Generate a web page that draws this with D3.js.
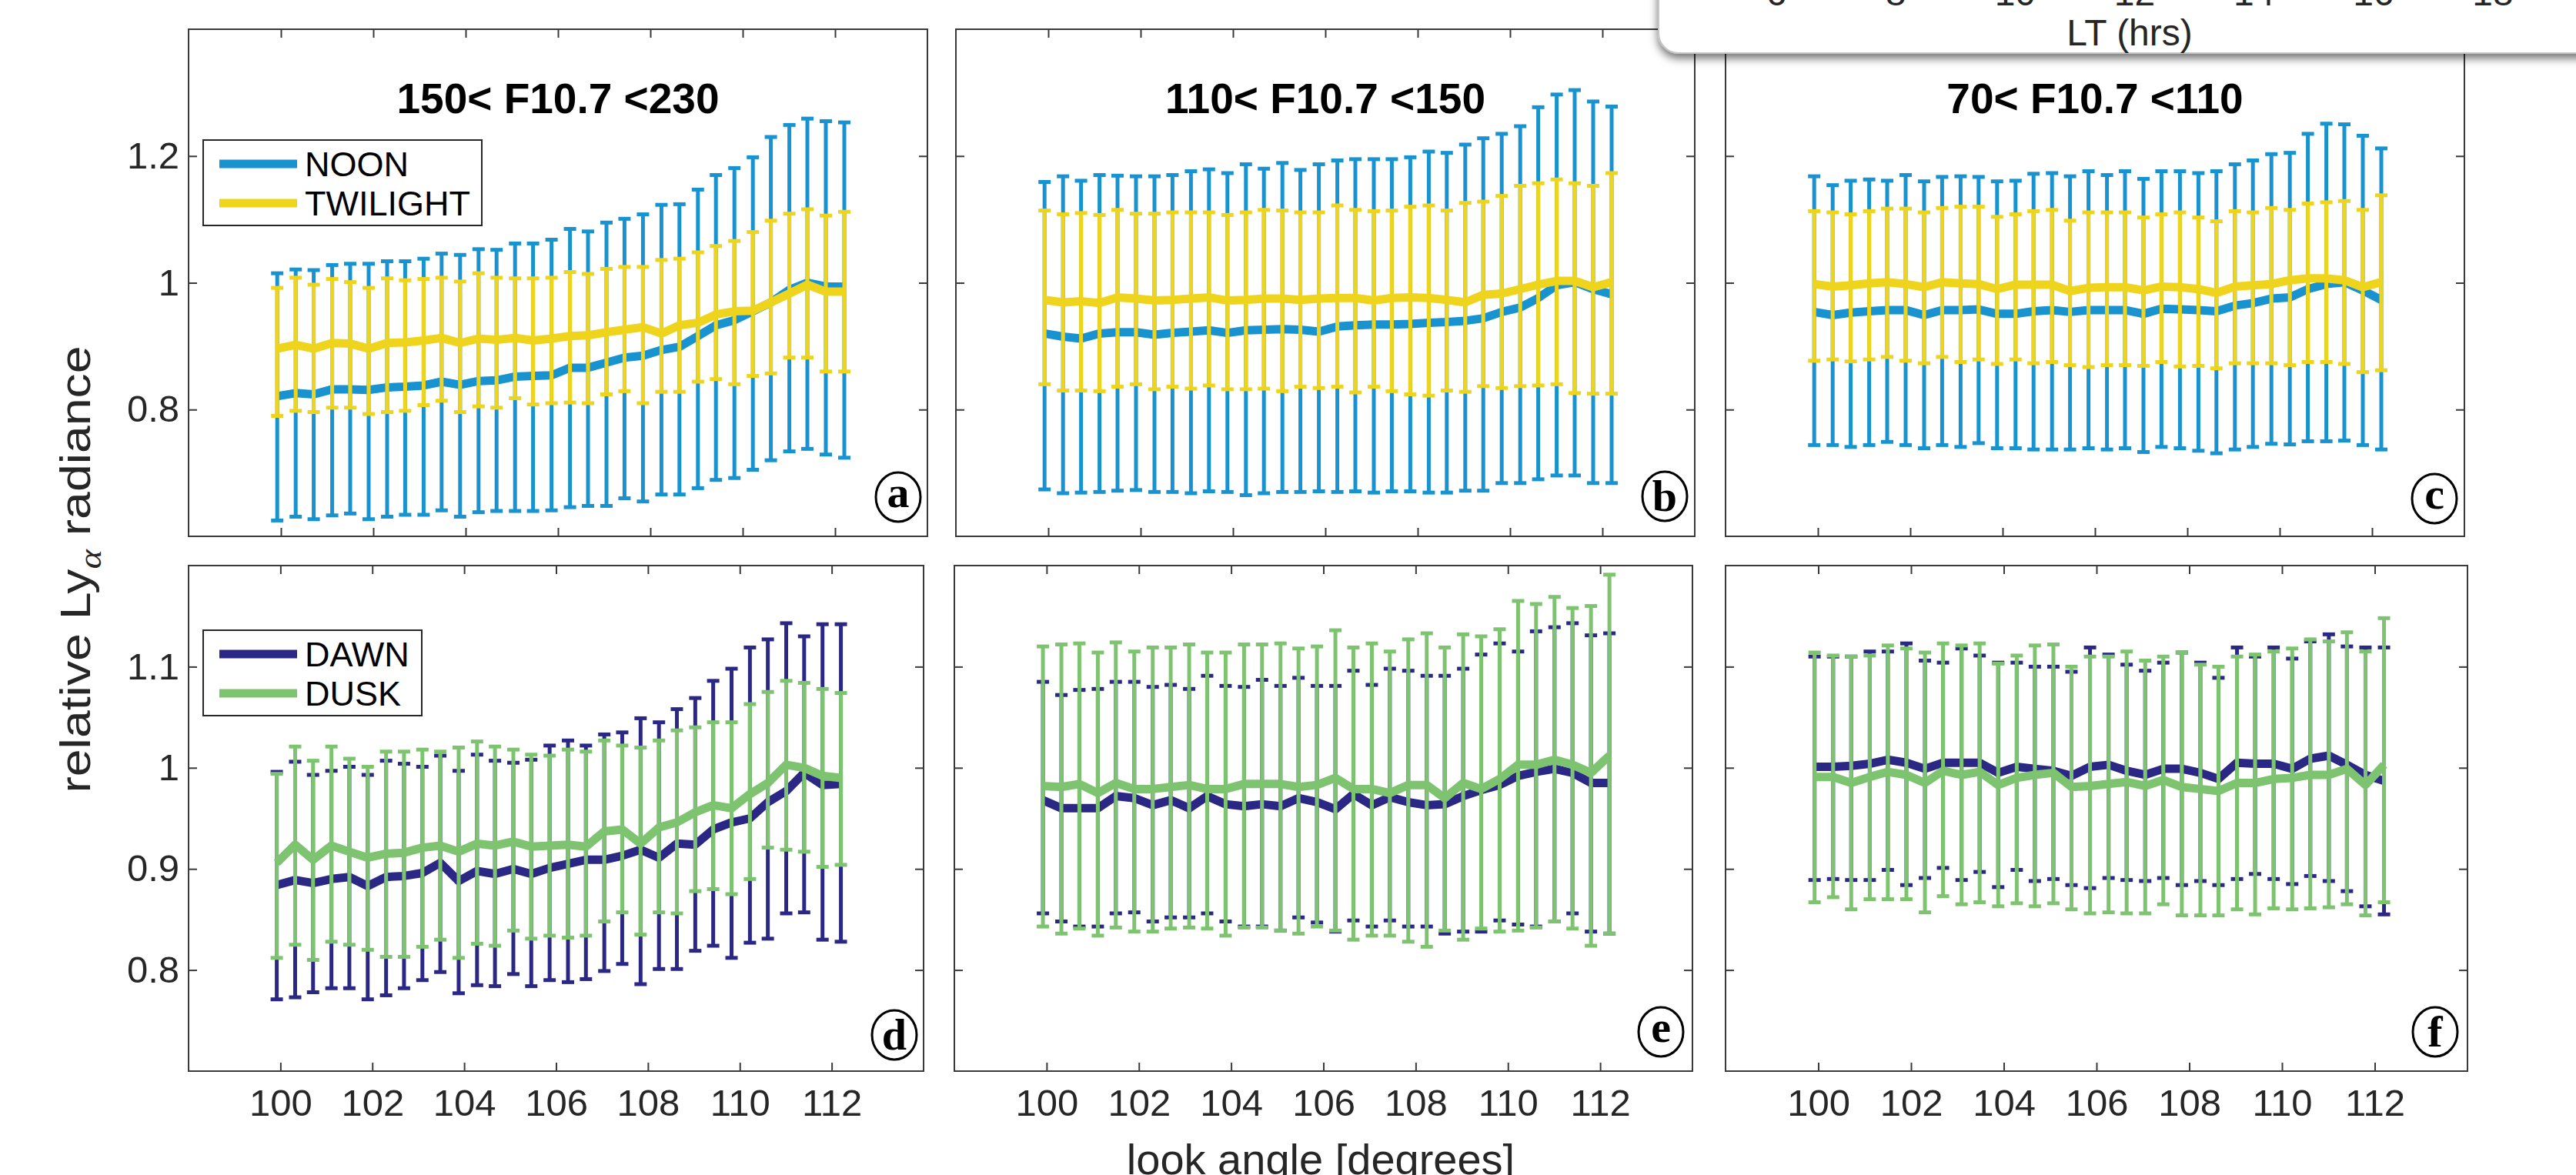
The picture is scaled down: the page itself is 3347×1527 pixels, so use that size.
<!DOCTYPE html>
<html>
<head>
<meta charset="utf-8">
<script src="https://cdn.jsdelivr.net/npm/d3@7"></script>
<style>
	body { margin: 0; background: #fff; }
	svg { display: block; }
	text { font-family: "Liberation Sans", Arial, Helvetica, sans-serif; fill: #262626; }
</style>
</head>
<body>
<script>
// look angle of every bin (same for all six panels)
var angles = [99.92, 100.32, 100.71, 101.11, 101.50, 101.90, 102.30, 102.69, 103.09, 103.48, 103.88, 104.28, 104.67, 105.07, 105.46, 105.86,
	106.26, 106.65, 107.05, 107.44, 107.84, 108.24, 108.63, 109.03, 109.42, 109.82, 110.22, 110.61, 111.01, 111.40, 111.80, 112.20];

// (a) 150 < F10.7 < 230
var aNoonMean = [0.821,0.826,0.824,0.832,0.832,0.831,0.835,0.836,0.838,0.844,0.839,0.845,0.846,0.852,0.853,0.854,0.866,0.866,0.874,0.882,0.885,0.894,0.899,0.916,0.933,0.941,0.955,0.969,0.989,1.000,0.994,0.994];
var aNoonHi = [1.015,1.021,1.020,1.028,1.030,1.030,1.034,1.034,1.038,1.046,1.044,1.053,1.052,1.062,1.062,1.068,1.085,1.081,1.095,1.101,1.108,1.123,1.124,1.147,1.170,1.181,1.198,1.230,1.249,1.259,1.255,1.253];
var aNoonLo = [0.625,0.631,0.627,0.633,0.636,0.627,0.631,0.634,0.634,0.641,0.631,0.638,0.640,0.640,0.640,0.641,0.646,0.648,0.648,0.660,0.655,0.666,0.666,0.676,0.689,0.692,0.705,0.720,0.734,0.738,0.729,0.724];
var aTwiMean = [0.896,0.902,0.896,0.905,0.904,0.896,0.905,0.906,0.909,0.913,0.905,0.912,0.910,0.913,0.909,0.912,0.916,0.917,0.922,0.926,0.930,0.920,0.933,0.937,0.950,0.955,0.956,0.969,0.983,0.997,0.986,0.986];
var aTwiHi = [0.992,1.008,0.997,1.006,1.001,0.992,1.007,1.004,1.006,1.008,1.002,1.015,1.008,1.007,1.007,1.008,1.017,1.014,1.022,1.025,1.025,1.036,1.038,1.048,1.058,1.066,1.080,1.098,1.109,1.116,1.106,1.112];
var aTwiLo = [0.790,0.798,0.796,0.803,0.803,0.793,0.796,0.798,0.807,0.814,0.796,0.805,0.803,0.818,0.808,0.810,0.811,0.810,0.824,0.829,0.810,0.828,0.828,0.844,0.848,0.840,0.853,0.857,0.882,0.882,0.860,0.860];

// (b) 110 < F10.7 < 150
var bNoonMean = [0.920,0.915,0.912,0.920,0.922,0.922,0.918,0.921,0.923,0.925,0.921,0.925,0.926,0.927,0.926,0.923,0.931,0.933,0.934,0.934,0.935,0.937,0.938,0.940,0.944,0.954,0.961,0.976,0.996,1.001,0.990,0.982];
var bNoonHi = [1.159,1.168,1.161,1.170,1.169,1.168,1.168,1.170,1.176,1.179,1.173,1.187,1.180,1.189,1.178,1.187,1.193,1.195,1.195,1.195,1.198,1.207,1.205,1.218,1.228,1.235,1.247,1.277,1.297,1.304,1.286,1.278];
var bNoonLo = [0.674,0.668,0.669,0.670,0.672,0.673,0.670,0.670,0.668,0.671,0.670,0.665,0.668,0.670,0.670,0.671,0.670,0.671,0.669,0.671,0.671,0.669,0.669,0.672,0.672,0.684,0.684,0.690,0.696,0.696,0.684,0.684];
var bTwiMean = [0.973,0.969,0.971,0.968,0.977,0.975,0.972,0.973,0.975,0.977,0.972,0.973,0.975,0.975,0.973,0.975,0.976,0.976,0.972,0.976,0.977,0.976,0.973,0.969,0.981,0.983,0.990,0.997,1.003,1.003,0.993,1.001];
var bTwiHi = [1.114,1.108,1.110,1.107,1.115,1.109,1.109,1.111,1.111,1.111,1.107,1.111,1.115,1.114,1.111,1.111,1.122,1.115,1.113,1.114,1.120,1.122,1.114,1.126,1.128,1.137,1.153,1.157,1.163,1.157,1.153,1.173];
var bTwiLo = [0.840,0.830,0.830,0.829,0.836,0.840,0.832,0.836,0.833,0.838,0.832,0.832,0.833,0.829,0.836,0.834,0.836,0.827,0.836,0.829,0.824,0.822,0.830,0.828,0.837,0.834,0.837,0.838,0.840,0.826,0.825,0.825];

// (c) 70 < F10.7 < 110
var cNoonMean = [0.954,0.949,0.953,0.955,0.957,0.957,0.949,0.957,0.957,0.958,0.951,0.951,0.955,0.957,0.954,0.957,0.957,0.957,0.951,0.959,0.958,0.957,0.955,0.964,0.968,0.975,0.977,0.990,0.998,1.001,0.988,0.973];
var cNoonHi = [1.168,1.154,1.161,1.163,1.161,1.170,1.160,1.167,1.168,1.167,1.160,1.161,1.172,1.173,1.168,1.176,1.170,1.176,1.164,1.176,1.176,1.173,1.176,1.187,1.193,1.203,1.205,1.235,1.251,1.250,1.232,1.212];
var cNoonLo = [0.744,0.744,0.741,0.744,0.749,0.744,0.739,0.744,0.741,0.747,0.739,0.739,0.737,0.737,0.737,0.739,0.737,0.739,0.733,0.741,0.739,0.735,0.731,0.737,0.741,0.746,0.745,0.750,0.750,0.751,0.744,0.737];
var cTwiMean = [0.998,0.994,0.996,0.999,1.001,0.998,0.993,1.001,0.999,0.998,0.990,0.997,0.997,0.997,0.987,0.992,0.993,0.993,0.988,0.994,0.993,0.990,0.984,0.994,0.996,0.998,1.004,1.007,1.007,1.004,0.993,1.001];
var cTwiHi = [1.113,1.111,1.108,1.113,1.117,1.117,1.111,1.118,1.120,1.120,1.104,1.108,1.113,1.115,1.098,1.111,1.111,1.111,1.103,1.108,1.111,1.103,1.097,1.113,1.111,1.118,1.115,1.125,1.127,1.129,1.115,1.138];
var cTwiLo = [0.877,0.879,0.876,0.879,0.883,0.877,0.873,0.883,0.875,0.879,0.872,0.879,0.873,0.875,0.870,0.867,0.870,0.870,0.869,0.875,0.868,0.869,0.865,0.873,0.873,0.873,0.870,0.875,0.875,0.872,0.859,0.862];

// (d) dawn / dusk, 150 < F10.7 < 230
var dDawnMean = [0.884,0.889,0.886,0.890,0.892,0.883,0.892,0.893,0.896,0.906,0.888,0.898,0.895,0.900,0.895,0.901,0.905,0.909,0.909,0.913,0.919,0.911,0.925,0.924,0.939,0.946,0.950,0.966,0.977,0.995,0.983,0.984];
var dDawnHi = [0.996,1.006,0.993,0.997,1.001,0.993,1.007,1.004,1.001,1.012,0.997,1.013,1.007,1.005,1.008,1.022,1.027,1.022,1.033,1.035,1.049,1.045,1.058,1.069,1.086,1.098,1.119,1.127,1.143,1.130,1.142,1.142];
var dDawnLo = [0.771,0.773,0.778,0.782,0.782,0.771,0.775,0.782,0.790,0.798,0.777,0.785,0.784,0.796,0.784,0.790,0.788,0.791,0.799,0.806,0.786,0.801,0.801,0.819,0.824,0.812,0.827,0.831,0.856,0.857,0.830,0.828];
var dDuskMean = [0.906,0.924,0.909,0.923,0.917,0.911,0.915,0.916,0.921,0.923,0.917,0.925,0.923,0.927,0.922,0.923,0.924,0.922,0.937,0.939,0.925,0.941,0.946,0.956,0.963,0.960,0.974,0.985,1.003,1.000,0.992,0.990];
var dDuskHi = [0.994,1.021,1.007,1.021,1.009,1.001,1.016,1.016,1.018,1.016,1.020,1.026,1.021,1.018,1.013,1.012,1.018,1.016,1.027,1.022,1.020,1.027,1.037,1.040,1.045,1.045,1.063,1.075,1.086,1.084,1.078,1.074];
var dDuskLo = [0.812,0.825,0.810,0.828,0.825,0.820,0.813,0.813,0.823,0.830,0.812,0.826,0.824,0.839,0.831,0.834,0.832,0.834,0.848,0.857,0.835,0.857,0.856,0.878,0.880,0.875,0.890,0.921,0.919,0.917,0.902,0.904];

// (e) dawn / dusk, 110 < F10.7 < 150
var eDawnMean = [0.968,0.960,0.960,0.960,0.972,0.970,0.963,0.968,0.960,0.972,0.964,0.962,0.964,0.962,0.970,0.966,0.959,0.974,0.963,0.971,0.966,0.963,0.964,0.972,0.978,0.983,0.992,0.996,0.999,0.995,0.985,0.985];
var eDawnHi = [1.085,1.072,1.077,1.078,1.085,1.085,1.080,1.082,1.078,1.091,1.081,1.080,1.087,1.081,1.089,1.081,1.081,1.096,1.082,1.098,1.096,1.091,1.091,1.098,1.112,1.123,1.115,1.135,1.139,1.143,1.131,1.133];
var eDawnLo = [0.856,0.848,0.843,0.843,0.856,0.857,0.848,0.852,0.852,0.856,0.848,0.843,0.843,0.839,0.852,0.847,0.838,0.849,0.843,0.849,0.843,0.843,0.836,0.838,0.838,0.849,0.845,0.843,0.848,0.856,0.838,0.836];
var eDuskMean = [0.982,0.981,0.984,0.975,0.985,0.979,0.979,0.981,0.983,0.979,0.979,0.984,0.984,0.984,0.981,0.983,0.990,0.979,0.979,0.975,0.983,0.983,0.970,0.985,0.979,0.989,1.003,1.003,1.008,1.003,0.995,1.012];
var eDuskHi = [1.120,1.122,1.123,1.114,1.124,1.115,1.119,1.119,1.122,1.114,1.114,1.122,1.122,1.123,1.118,1.120,1.136,1.119,1.123,1.115,1.127,1.133,1.119,1.132,1.130,1.137,1.165,1.162,1.169,1.158,1.160,1.191];
var eDuskLo = [0.843,0.836,0.841,0.834,0.842,0.838,0.838,0.841,0.842,0.841,0.834,0.842,0.842,0.839,0.836,0.843,0.839,0.830,0.834,0.834,0.828,0.823,0.839,0.830,0.841,0.838,0.839,0.842,0.848,0.841,0.824,0.836];

// (f) dawn / dusk, 70 < F10.7 < 110
var fDawnMean = [1.001,1.001,1.002,1.004,1.008,1.005,0.999,1.005,1.005,1.005,0.995,1.001,0.999,0.997,0.992,1.001,1.003,0.997,0.993,0.999,0.999,0.995,0.989,1.005,1.004,1.004,0.999,1.009,1.012,1.003,0.993,0.987];
var fDawnHi = [1.110,1.110,1.110,1.115,1.115,1.123,1.106,1.104,1.118,1.111,1.104,1.104,1.100,1.100,1.095,1.119,1.112,1.102,1.096,1.104,1.114,1.104,1.089,1.119,1.110,1.119,1.108,1.125,1.132,1.120,1.119,1.119];
var fDawnLo = [0.889,0.890,0.889,0.889,0.899,0.884,0.891,0.901,0.889,0.897,0.882,0.899,0.888,0.890,0.884,0.881,0.891,0.889,0.888,0.891,0.884,0.888,0.884,0.890,0.895,0.890,0.885,0.893,0.888,0.878,0.863,0.855];
var fDuskMean = [0.991,0.991,0.985,0.991,0.996,0.993,0.985,0.997,0.993,0.996,0.983,0.990,0.993,0.995,0.981,0.982,0.984,0.986,0.982,0.988,0.981,0.979,0.977,0.985,0.985,0.989,0.990,0.993,0.993,0.999,0.983,1.003];
var fDuskHi = [1.114,1.111,1.110,1.111,1.121,1.118,1.114,1.123,1.121,1.123,1.103,1.111,1.121,1.122,1.100,1.110,1.110,1.115,1.106,1.110,1.114,1.102,1.100,1.110,1.112,1.115,1.118,1.127,1.125,1.134,1.115,1.148];
var fDuskLo = [0.867,0.872,0.860,0.870,0.870,0.870,0.857,0.873,0.865,0.867,0.863,0.866,0.863,0.866,0.860,0.856,0.857,0.856,0.856,0.865,0.854,0.854,0.854,0.860,0.855,0.861,0.860,0.861,0.862,0.865,0.854,0.867];

// axis ticks and labels
var xTicks = [100, 102, 104, 106, 108, 110, 112];
var yTicksTop = [0.8, 1, 1.2];
var yTicksBottom = [0.8, 0.9, 1, 1.1];
var titles = ["150< F10.7 <230", "110< F10.7 <150", "70< F10.7 <110"];
var panelLetters = ["a", "b", "c", "d", "e", "f"];
var topNames = ["NOON", "TWILIGHT"];
var bottomNames = ["DAWN", "DUSK"];
var ltTicks = [6, 8, 10, 12, 14, 16, 18];

// ---------------- layout / style ----------------
var totalWidth = 3347, totalHeight = 1527;
var colors = { NOON: "#1992D0", TWILIGHT: "#EFD41D", DAWN: "#2B2885", DUSK: "#7EC470" };
var axisColor = "#3a3a3a";

var svg = d3.select("body").append("svg")
	.attr("width", totalWidth)
	.attr("height", totalHeight);

var panels = [
	{ box: [245, 38, 1205, 697], yDomain: [0.6, 1.4], yTicks: yTicksTop, letter: [1167, 646], title: titles[0],
		series: [[topNames[0], aNoonMean, aNoonHi, aNoonLo], [topNames[1], aTwiMean, aTwiHi, aTwiLo]], yLabels: true, xLabels: false, legend: [264, 182, 362] },
	{ box: [1242, 38, 2202, 697], yDomain: [0.6, 1.4], yTicks: yTicksTop, letter: [2163, 645], title: titles[1],
		series: [[topNames[0], bNoonMean, bNoonHi, bNoonLo], [topNames[1], bTwiMean, bTwiHi, bTwiLo]] },
	{ box: [2242, 38, 3202, 697], yDomain: [0.6, 1.4], yTicks: yTicksTop, letter: [3163, 648], title: titles[2],
		series: [[topNames[0], cNoonMean, cNoonHi, cNoonLo], [topNames[1], cTwiMean, cTwiHi, cTwiLo]] },
	{ box: [245, 735, 1200, 1392], yDomain: [0.7, 1.2], yTicks: yTicksBottom, letter: [1162, 1345],
		series: [[bottomNames[0], dDawnMean, dDawnHi, dDawnLo], [bottomNames[1], dDuskMean, dDuskHi, dDuskLo]], yLabels: true, xLabels: true, legend: [264, 819, 284] },
	{ box: [1240, 735, 2199, 1392], yDomain: [0.7, 1.2], yTicks: yTicksBottom, letter: [2158, 1341],
		series: [[bottomNames[0], eDawnMean, eDawnHi, eDawnLo], [bottomNames[1], eDuskMean, eDuskHi, eDuskLo]], xLabels: true },
	{ box: [2242, 735, 3206, 1392], yDomain: [0.7, 1.2], yTicks: yTicksBottom, letter: [3164, 1341],
		series: [[bottomNames[0], fDawnMean, fDawnHi, fDawnLo], [bottomNames[1], fDuskMean, fDuskHi, fDuskLo]], xLabels: true }
];

function styleAxis(g) {
	g.select(".domain").remove();
	g.selectAll("line").attr("stroke", axisColor).attr("stroke-width", 2);
	g.selectAll("text").attr("font-family", null).attr("fill", "#262626").style("font-size", "49px");
}

panels.forEach(function(p, pi) {
	var left = p.box[0], top = p.box[1], right = p.box[2], bottom = p.box[3];
	var xScale = d3.scaleLinear().domain([98, 114]).range([left, right]);
	var yScale = d3.scaleLinear().domain(p.yDomain).range([bottom, top]);

	// box + inward ticks on all four sides
	svg.append("rect")
		.attr("x", left).attr("y", top)
		.attr("width", right - left).attr("height", bottom - top)
		.attr("fill", "#fff").attr("stroke", axisColor).attr("stroke-width", 2);

	svg.append("g")
		.attr("transform", "translate(0," + bottom + ")")
		.call(d3.axisBottom(xScale).tickValues(xTicks).tickSize(-11).tickPadding(23)
			.tickFormat(p.xLabels ? d3.format("d") : ""))
		.call(styleAxis);
	svg.append("g")
		.attr("transform", "translate(0," + top + ")")
		.call(d3.axisTop(xScale).tickValues(xTicks).tickSize(-11).tickFormat(""))
		.call(styleAxis);
	svg.append("g")
		.attr("transform", "translate(" + left + ",0)")
		.call(d3.axisLeft(yScale).tickValues(p.yTicks).tickSize(-11).tickPadding(12)
			.tickFormat(p.yLabels ? d3.format("") : ""))
		.call(styleAxis);
	svg.append("g")
		.attr("transform", "translate(" + right + ",0)")
		.call(d3.axisRight(yScale).tickValues(p.yTicks).tickSize(-11).tickFormat(""))
		.call(styleAxis);

	// error bars + mean line, one series after the other (second one on top)
	p.series.forEach(function(s) {
		var color = colors[s[0]];
		var rows = angles.map(function(a, i) { return { a: a, m: s[1][i], hi: s[2][i], lo: s[3][i] }; });
		var g = svg.append("g");

		g.selectAll("line.bar").data(rows).enter().append("line")
			.attr("class", "bar")
			.attr("x1", d => xScale(d.a)).attr("x2", d => xScale(d.a))
			.attr("y1", d => yScale(d.hi)).attr("y2", d => yScale(d.lo))
			.attr("stroke", color).attr("stroke-width", 5);

		["hi", "lo"].forEach(function(k) {
			g.selectAll("line.cap" + k).data(rows).enter().append("line")
				.attr("class", "cap" + k)
				.attr("x1", d => xScale(d.a) - 8).attr("x2", d => xScale(d.a) + 8)
				.attr("y1", d => yScale(d[k])).attr("y2", d => yScale(d[k]))
				.attr("stroke", color).attr("stroke-width", 5);
		});

		var line = d3.line()
			.x(d => xScale(d.a))
			.y(d => yScale(d.m));
		g.append("path")
			.datum(rows)
			.attr("d", line)
			.attr("fill", "none")
			.attr("stroke", color)
			.attr("stroke-width", 11)
			.attr("stroke-linejoin", "round");
	});

	// panel title
	if (p.title) {
		svg.append("text")
			.attr("x", (left + right) / 2).attr("y", 147)
			.attr("text-anchor", "middle")
			.style("font-size", "55px").style("font-weight", "bold").style("fill", "#000")
			.text(p.title);
	}

	// legend
	if (p.legend) {
		var lx = p.legend[0], ly = p.legend[1], lw = p.legend[2];
		var lg = svg.append("g");
		lg.append("rect")
			.attr("x", lx).attr("y", ly).attr("width", lw).attr("height", 111)
			.attr("fill", "#fff").attr("stroke", "#262626").attr("stroke-width", 2);
		p.series.forEach(function(s, i) {
			var yy = ly + 31 + i * 51;
			lg.append("line")
				.attr("x1", lx + 21).attr("x2", lx + 122)
				.attr("y1", yy).attr("y2", yy)
				.attr("stroke", colors[s[0]]).attr("stroke-width", 11);
			lg.append("text")
				.attr("x", lx + 132).attr("y", yy + 16)
				.style("font-size", "45px").style("fill", "#000")
				.text(s[0]);
		});
	}

	// circled panel letter
	var cx = p.letter[0], cy = p.letter[1];
	svg.append("ellipse")
		.attr("cx", cx).attr("cy", cy).attr("rx", 29).attr("ry", 32)
		.attr("fill", "none").attr("stroke", "#000").attr("stroke-width", 3);
	var tall = "bdf".indexOf(panelLetters[pi]) >= 0;
	svg.append("text")
		.attr("x", cx).attr("y", cy + (tall ? 19 : 13))
		.attr("text-anchor", "middle")
		.style("font-family", "'Liberation Serif', 'DejaVu Serif', serif")
		.style("font-weight", "bold").style("font-size", "58px").style("fill", "#000")
		.text(panelLetters[pi]);
});

// shared axis labels
svg.append("text")
	.attr("x", 1716).attr("y", 1526)
	.attr("text-anchor", "middle")
	.style("font-size", "56px")
	.text("look angle [degrees]");

var yLabel = svg.append("text")
	.attr("transform", "translate(117,740) rotate(-90) scale(1.15,1)")
	.attr("text-anchor", "middle")
	.style("font-size", "56px");
yLabel.append("tspan").text("relative Ly");
yLabel.append("tspan")
	.attr("dy", 14)
	.style("font-family", "'Liberation Serif', 'DejaVu Serif', serif")
	.style("font-style", "italic").style("font-size", "42px")
	.text("\u03b1");
yLabel.append("tspan").attr("dy", -14).text(" radiance");

// the pop-up panel that overlaps the top right corner (LT axis of another figure)
var defs = svg.append("defs");
var shadow = defs.append("filter").attr("id", "shadow")
	.attr("x", "-5%").attr("y", "-50%").attr("width", "110%").attr("height", "200%");
shadow.append("feDropShadow")
	.attr("dx", 0).attr("dy", 6).attr("stdDeviation", 6)
	.attr("flood-color", "#000").attr("flood-opacity", 0.55);

svg.append("rect")
	.attr("x", 2155).attr("y", -60)
	.attr("width", 1300).attr("height", 129)
	.attr("rx", 26)
	.attr("fill", "#fff").attr("stroke", "#c4c4c4").attr("stroke-width", 2)
	.attr("filter", "url(#shadow)");

var ltScale = d3.scaleLinear().domain([6, 18]).range([2308, 3239]);
svg.append("g").selectAll("text")
	.data(ltTicks)
	.enter().append("text")
	.attr("x", d => ltScale(d)).attr("y", 7)
	.attr("text-anchor", "middle")
	.style("font-size", "48px")
	.text(d => d);
svg.append("text")
	.attr("x", 2767).attr("y", 59)
	.attr("text-anchor", "middle")
	.style("font-size", "48px")
	.text("LT (hrs)");
</script>
</body>
</html>
